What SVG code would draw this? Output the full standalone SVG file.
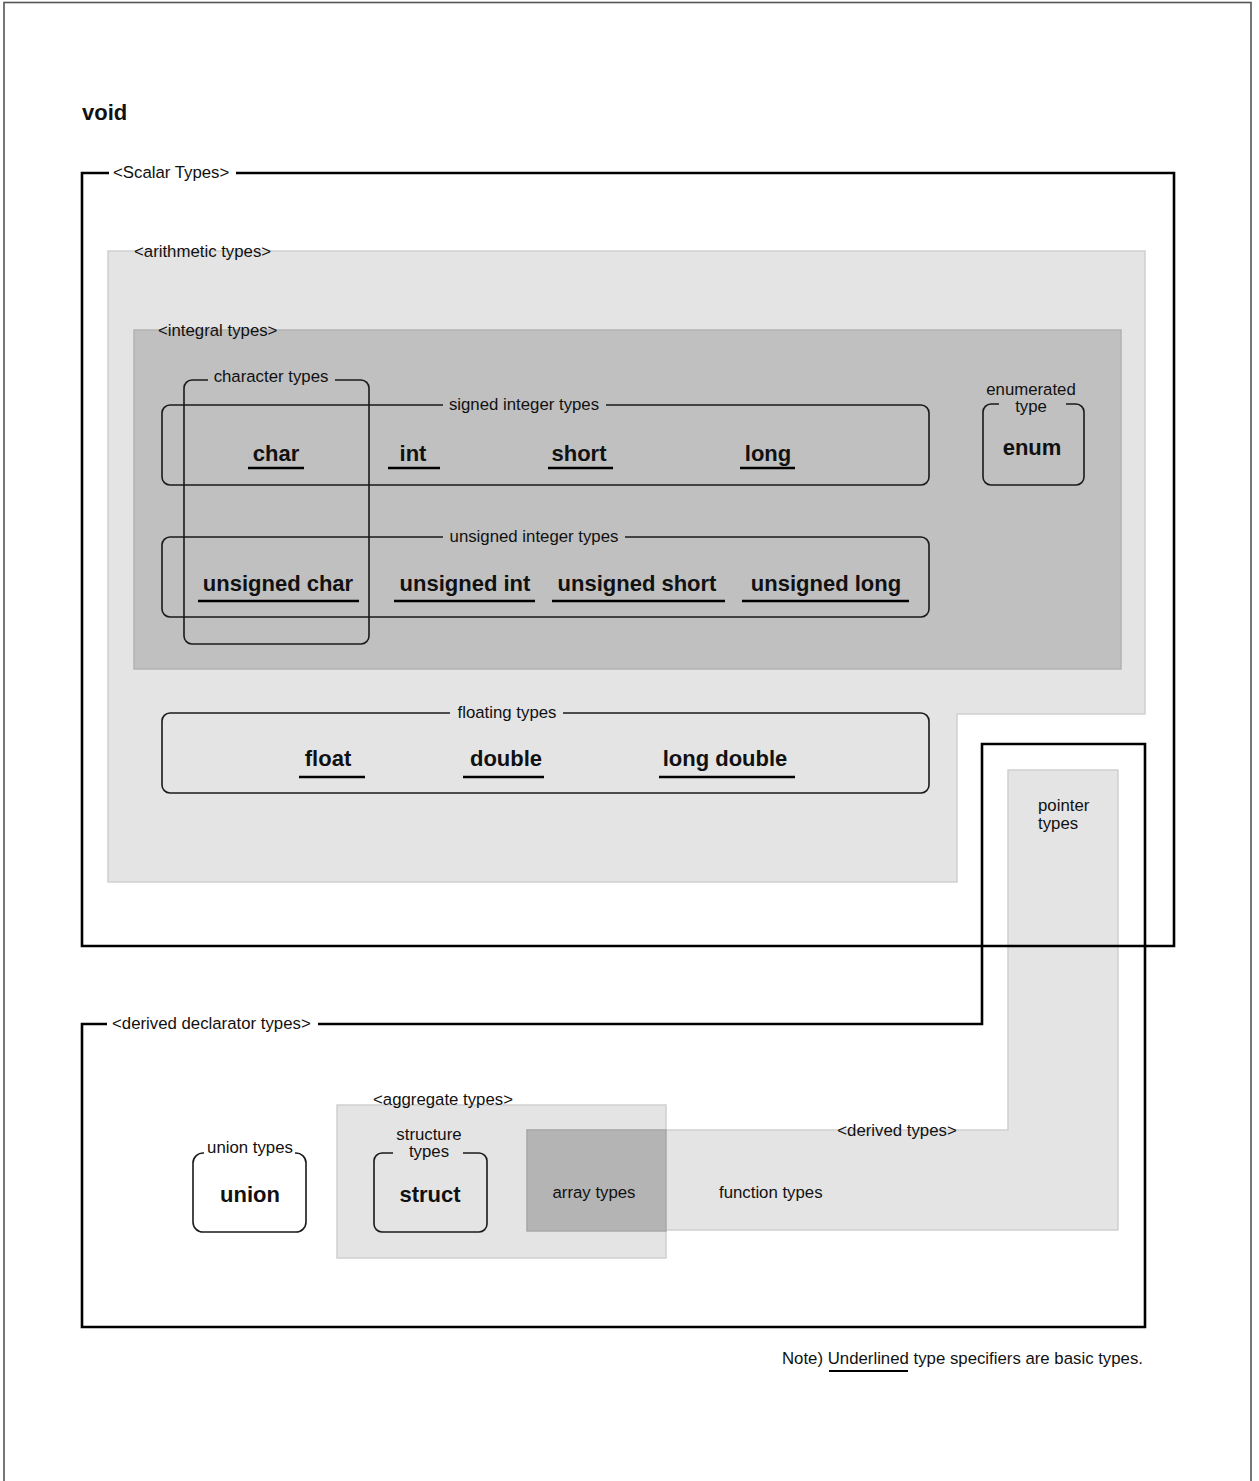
<svg xmlns="http://www.w3.org/2000/svg" width="1259" height="1481" viewBox="0 0 1259 1481">
<style>
text{font-family:"Liberation Sans",Arial,sans-serif;fill:#111}
.lbl{font-size:16.8px}
.mid{text-anchor:middle}
.kw{font-size:22px;font-weight:bold;text-anchor:middle}
.frame{fill:none;stroke:#000;stroke-width:2.6}
.rbox{fill:none;stroke:#1a1a1a;stroke-width:1.6}
.ul{stroke:#000;stroke-width:2.6}
.light{fill:#e4e4e4;stroke:#d0d0d0;stroke-width:1.5}
.dark{fill:#c0c0c0;stroke:#b2b2b2;stroke-width:1.5}
.darker{fill:#b4b4b4;stroke:#a8a8a8;stroke-width:1.5}
</style>
<rect x="0" y="0" width="1259" height="1481" fill="#fff"/>
<rect x="4" y="2.5" width="1247" height="1490" fill="none" stroke="#555" stroke-width="1.6"/>

<g id="void"><text class="kw" x="82" y="120" style="text-anchor:start">void</text></g>

<g id="arithmetic-types">
<path class="light" d="M108,251 H1145 V714 H957 V882 H108 Z"/>
<text class="lbl" x="134" y="257">&lt;arithmetic types&gt;</text>
</g>

<g id="integral-types">
<rect class="dark" x="134" y="330" width="987" height="339"/>
<text class="lbl" x="158" y="336">&lt;integral types&gt;</text>
</g>

<g id="character-types">
<path class="rbox" d="M335,380 H361 A8,8 0 0 1 369,388 V636 A8,8 0 0 1 361,644 H192 A8,8 0 0 1 184,636 V388 A8,8 0 0 1 192,380 H208"/>
<text class="lbl mid" x="271" y="382">character types</text>
</g>

<g id="signed-integer-types">
<path class="rbox" d="M606,405 H921 A8,8 0 0 1 929,413 V477 A8,8 0 0 1 921,485 H170 A8,8 0 0 1 162,477 V413 A8,8 0 0 1 170,405 H443"/>
<text class="lbl mid" x="524" y="410">signed integer types</text>
<text class="kw" x="276" y="461">char</text>
<line class="ul" x1="248" y1="468" x2="304" y2="468"/>
<text class="kw" x="413" y="461">int</text>
<line class="ul" x1="388" y1="468" x2="440" y2="468"/>
<text class="kw" x="579" y="461">short</text>
<line class="ul" x1="548" y1="468" x2="613" y2="468"/>
<text class="kw" x="768" y="461">long</text>
<line class="ul" x1="740" y1="468" x2="795" y2="468"/>
</g>

<g id="unsigned-integer-types">
<path class="rbox" d="M625,537 H921 A8,8 0 0 1 929,545 V609 A8,8 0 0 1 921,617 H170 A8,8 0 0 1 162,609 V545 A8,8 0 0 1 170,537 H443"/>
<text class="lbl mid" x="534" y="542">unsigned integer types</text>
<text class="kw" x="278" y="591">unsigned char</text>
<line class="ul" x1="198" y1="601" x2="359" y2="601"/>
<text class="kw" x="465" y="591">unsigned int</text>
<line class="ul" x1="394" y1="601" x2="535" y2="601"/>
<text class="kw" x="637" y="591">unsigned short</text>
<line class="ul" x1="552" y1="601" x2="725" y2="601"/>
<text class="kw" x="826" y="591">unsigned long</text>
<line class="ul" x1="742" y1="601" x2="909" y2="601"/>
</g>

<g id="enumerated-type">
<path class="rbox" d="M1066,404 H1076 A8,8 0 0 1 1084,412 V477 A8,8 0 0 1 1076,485 H991 A8,8 0 0 1 983,477 V412 A8,8 0 0 1 991,404 H999"/>
<text class="lbl mid" x="1031" y="395">enumerated</text>
<text class="lbl mid" x="1031" y="412">type</text>
<text class="kw" x="1032" y="455">enum</text>
</g>

<g id="floating-types">
<path class="rbox" d="M563,713 H921 A8,8 0 0 1 929,721 V785 A8,8 0 0 1 921,793 H170 A8,8 0 0 1 162,785 V721 A8,8 0 0 1 170,713 H450"/>
<text class="lbl mid" x="507" y="718">floating types</text>
<text class="kw" x="328" y="766">float</text>
<line class="ul" x1="299" y1="777" x2="365" y2="777"/>
<text class="kw" x="506" y="766">double</text>
<line class="ul" x1="463" y1="777" x2="544" y2="777"/>
<text class="kw" x="725" y="766">long double</text>
<line class="ul" x1="659" y1="777" x2="795" y2="777"/>
</g>

<g id="aggregate-types">
<rect class="light" x="337" y="1105" width="329" height="153"/>
<text class="lbl" x="373" y="1105">&lt;aggregate types&gt;</text>
</g>

<g id="derived-types">
<path class="light" d="M527,1130 H1008 V770 H1118 V1230 H527 Z"/>
<text class="lbl mid" x="897" y="1136">&lt;derived types&gt;</text>
<text class="lbl" x="1038" y="811">pointer</text>
<text class="lbl" x="1038" y="829">types</text>
<text class="lbl" x="719" y="1198">function types</text>
</g>

<g id="array-types">
<rect class="darker" x="527" y="1130" width="139" height="101"/>
<text class="lbl mid" x="594" y="1198">array types</text>
</g>

<g id="structure-types">
<path class="rbox" d="M463,1153 H479 A8,8 0 0 1 487,1161 V1224 A8,8 0 0 1 479,1232 H382 A8,8 0 0 1 374,1224 V1161 A8,8 0 0 1 382,1153 H393"/>
<text class="lbl mid" x="429" y="1140">structure</text>
<text class="lbl mid" x="429" y="1157">types</text>
<text class="kw" x="430" y="1202">struct</text>
</g>

<g id="union-types">
<path class="rbox" d="M295,1153 A10,10 0 0 1 306,1163 V1222 A10,10 0 0 1 296,1232 H203 A10,10 0 0 1 193,1222 V1163 A10,10 0 0 1 204,1153"/>
<text class="lbl mid" x="250" y="1153">union types</text>
<text class="kw" x="250" y="1202">union</text>
</g>

<g id="scalar-types">
<path class="frame" d="M109,173 H82 V946 H1174 V173 H236"/>
<text class="lbl" x="113" y="178">&lt;Scalar Types&gt;</text>
</g>

<g id="derived-declarator-types">
<path class="frame" d="M318,1024 H982 V744 H1145 V1327 H82 V1024 H107"/>
<text class="lbl" x="112" y="1029">&lt;derived declarator types&gt;</text>
</g>

<g id="note">
<text class="lbl" x="782" y="1364">Note) Underlined type specifiers are basic types.</text>
<line x1="829" y1="1371" x2="908" y2="1371" stroke="#000" stroke-width="2"/>
</g>

<g id="connectors"></g>
</svg>
